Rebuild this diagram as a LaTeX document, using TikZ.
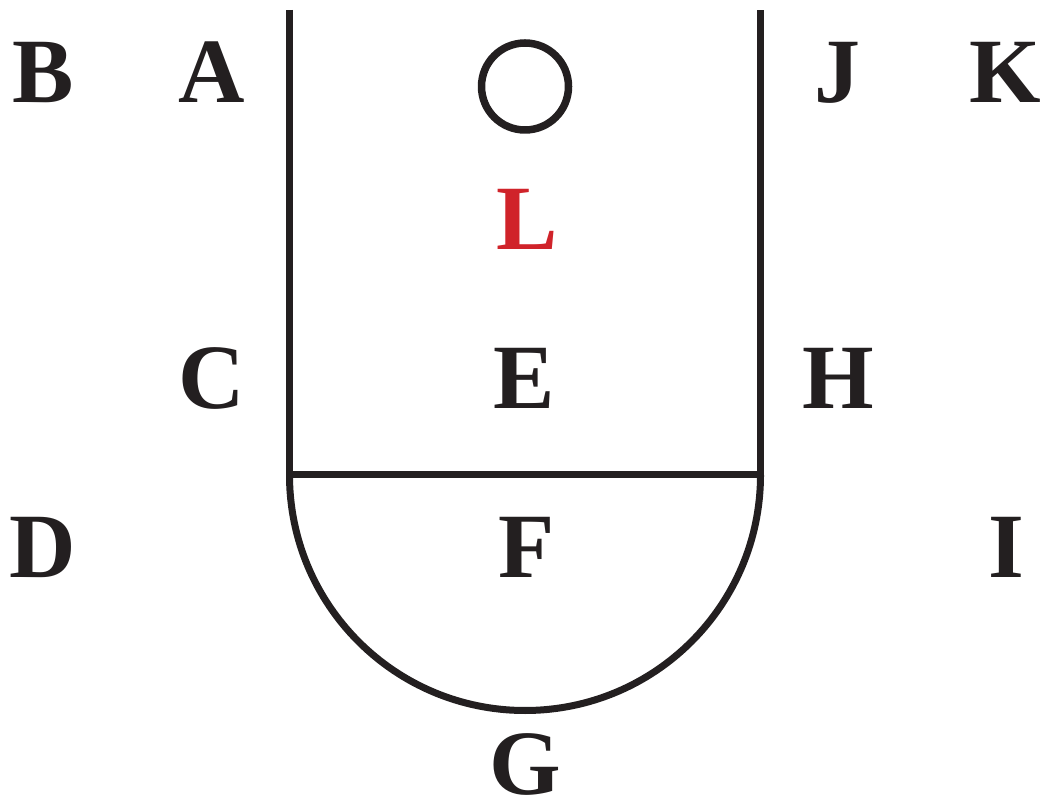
\documentclass[tikz,border=0pt]{standalone}
\usepackage{fontspec}
\setmainfont{Liberation Serif}
\definecolor{ink}{RGB}{35,31,32}
\definecolor{lred}{RGB}{208,35,42}
\begin{document}
\begin{tikzpicture}[x=1pt,y=1pt,
  lab/.style={anchor=base,inner sep=0pt,font=\fontsize{92}{92}\selectfont\bfseries,text=ink},
  wall/.style={draw=ink,line width=7pt}]
\useasboundingbox (0,0) rectangle (1046,806);
% outline
\coordinate (tl) at (289.5,796);
\coordinate (tr) at (760.5,796);
\coordinate (bl) at (289.5,331);
\coordinate (br) at (760.5,331);
\draw[wall] (tl) -- (bl) -- (br) -- (tr);
\draw[wall] (bl) arc[start angle=180,end angle=360,radius=235.5];
\node[draw=ink,line width=7.5pt,circle,minimum size=87pt,inner sep=0pt] (o) at (525,719.5) {};
% labels
\node[lab] (B) at (43,703) {B};
\node[lab] (A) at (212,703) {A};
\node[lab] (J) at (837,703) {J};
\node[lab] (K) at (1005,703) {K};
\node[lab,text=lred] (L) at (527,556) {L};
\node[lab] (C) at (212,397) {C};
\node[lab] (E) at (524,397) {E};
\node[lab] (H) at (838,397) {H};
\node[lab] (D) at (43,228) {D};
\node[lab] (F) at (527,228) {F};
\node[lab] (I) at (1006,228) {I};
\node[lab] (G) at (525,12) {G};
\end{tikzpicture}
\end{document}
